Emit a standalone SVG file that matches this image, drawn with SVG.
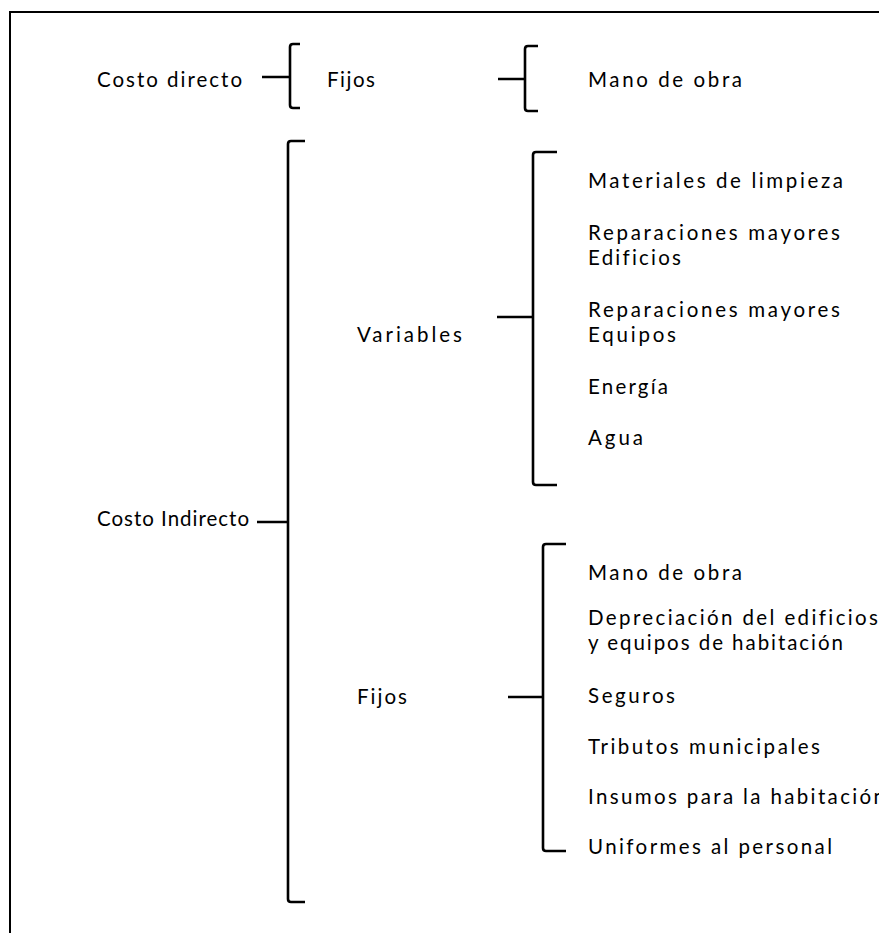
<svg xmlns="http://www.w3.org/2000/svg" width="879" height="933" viewBox="0 0 879 933">
<style>
text{font-family:Lato,"Open Sans","Liberation Sans",sans-serif;font-size:20.5px;fill:#000;font-variant-ligatures:none}
.br{fill:none;stroke:#000;stroke-width:2.6;stroke-linecap:butt;stroke-linejoin:round}
.frame{fill:none;stroke:#000;stroke-width:2}
</style>
<rect width="879" height="933" fill="#fff"/>
<rect class="frame" x="10" y="12" width="900" height="950"/>
<g id="connectors">
<path class="br" d="M300,44 L293,44 Q290,44 290,47 L290,105 Q290,108 293,108 L300,108 M262,77 L290,77"/>
<path class="br" d="M538,46 L528,46 Q525,46 525,49 L525,108 Q525,111 528,111 L538,111 M498,79 L525,79"/>
<path class="br" d="M305,141 L291,141 Q288,141 288,144 L288,899 Q288,902 291,902 L305,902 M257,522 L288,522"/>
<path class="br" d="M557,152 L536,152 Q533,152 533,155 L533,482 Q533,485 536,485 L557,485 M497,317 L533,317"/>
<path class="br" d="M566,544 L546,544 Q543,544 543,547 L543,848 Q543,851 546,851 L566,851 M508,697 L543,697"/>
</g>
<g id="costo-directo"><text x="97" y="87" textLength="145" lengthAdjust="spacing">Costo directo</text></g>
<g id="fijos-directo"><text x="327" y="87" textLength="48" lengthAdjust="spacing">Fijos</text></g>
<g id="mano-obra-directo"><text x="588" y="87" textLength="154" lengthAdjust="spacing">Mano de obra</text></g>
<g id="costo-indirecto"><text x="97" y="526" textLength="152" lengthAdjust="spacing">Costo Indirecto</text></g>
<g id="variables"><text x="357" y="342" textLength="105" lengthAdjust="spacing">Variables</text></g>
<g id="fijos-indirecto"><text x="357" y="704" textLength="50" lengthAdjust="spacing">Fijos</text></g>
<g id="variables-items">
<text x="588" y="188" textLength="255" lengthAdjust="spacing">Materiales de limpieza</text>
<text x="588" y="240" textLength="252" lengthAdjust="spacing">Reparaciones mayores</text>
<text x="588" y="265" textLength="93" lengthAdjust="spacing">Edificios</text>
<text x="588" y="317" textLength="252" lengthAdjust="spacing">Reparaciones mayores</text>
<text x="588" y="342" textLength="88" lengthAdjust="spacing">Equipos</text>
<text x="588" y="394" textLength="80" lengthAdjust="spacing">Energía</text>
<text x="588" y="445" textLength="55" lengthAdjust="spacing">Agua</text>
</g>
<g id="fijos-items">
<text x="588" y="580" textLength="154" lengthAdjust="spacing">Mano de obra</text>
<text x="588" y="625" textLength="290" lengthAdjust="spacing">Depreciación del edificios</text>
<text x="588" y="650" textLength="255" lengthAdjust="spacing">y equipos de habitación</text>
<text x="588" y="703" textLength="87" lengthAdjust="spacing">Seguros</text>
<text x="588" y="754" textLength="232" lengthAdjust="spacing">Tributos municipales</text>
<text x="588" y="804" textLength="297" lengthAdjust="spacing">Insumos para la habitación</text>
<text x="588" y="854" textLength="244" lengthAdjust="spacing">Uniformes al personal</text>
</g>
</svg>
